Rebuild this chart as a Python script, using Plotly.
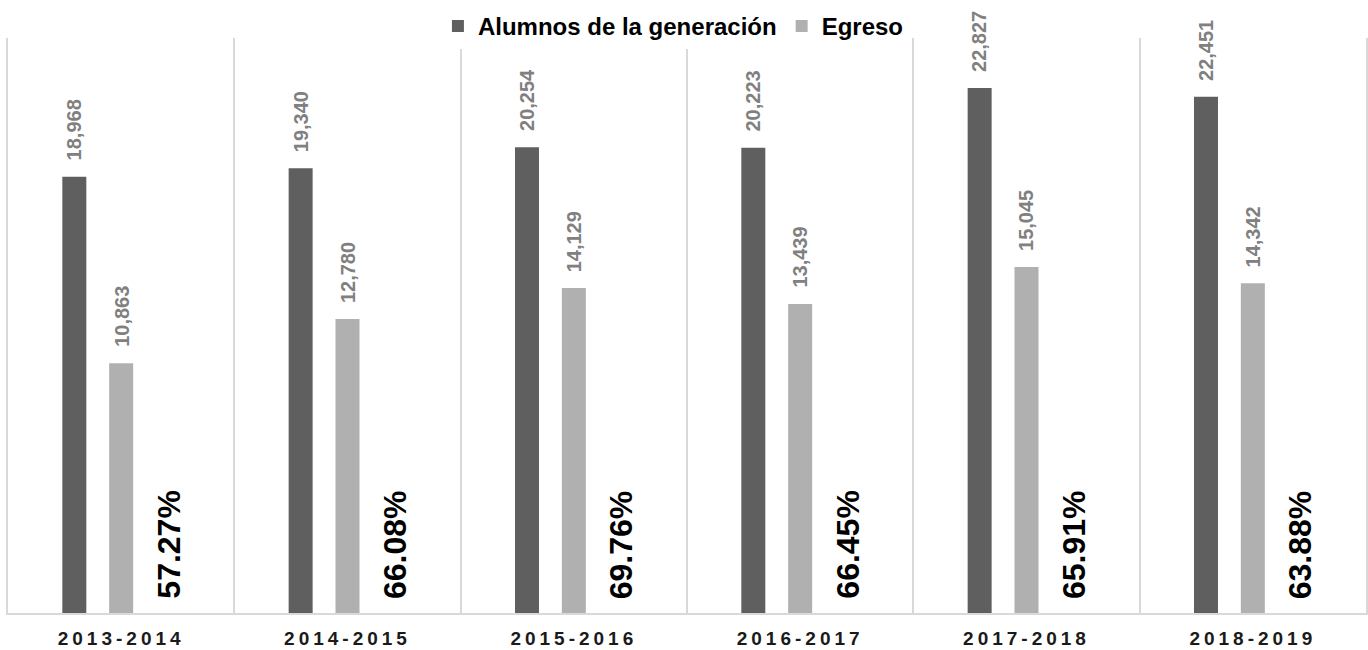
import plotly.graph_objects as go

categories = ["2013-2014", "2014-2015", "2015-2016", "2016-2017", "2017-2018", "2018-2019"]
alumnos = [18968, 19340, 20254, 20223, 22827, 22451]
egreso = [10863, 12780, 14129, 13439, 15045, 14342]
porcentaje = ["57.27%", "66.08%", "69.76%", "66.45%", "65.91%", "63.88%"]

DARK = "#5f5f5f"
LIGHT = "#b0b0b0"
LABEL_GRAY = "#808080"
GRID = "#d9d9d9"
FONT = "Liberation Sans, Arial, sans-serif"

BAR_W = 0.106
fig = go.Figure()
fig.add_trace(go.Bar(
    x=categories, y=alumnos, name="Alumnos de la generación",
    marker=dict(color=DARK, line=dict(width=0)),
    width=BAR_W, offset=-0.207 - BAR_W / 2,
))
fig.add_trace(go.Bar(
    x=categories, y=egreso, name="Egreso",
    marker=dict(color=LIGHT, line=dict(width=0)),
    width=BAR_W, offset=-BAR_W / 2,
))

annotations = []
for c, a, e, p in zip(categories, alumnos, egreso, porcentaje):
    annotations.append(dict(
        x=c, y=a, xref="x", yref="y", text=f"{a:,}", showarrow=False,
        textangle=-90, xanchor="center", yanchor="bottom", xshift=-47, yshift=14,
        font=dict(family=FONT, size=20, color=LABEL_GRAY, weight="bold"),
    ))
    annotations.append(dict(
        x=c, y=e, xref="x", yref="y", text=f"{e:,}", showarrow=False,
        textangle=-90, xanchor="center", yanchor="bottom", xshift=0, yshift=14,
        font=dict(family=FONT, size=20, color=LABEL_GRAY, weight="bold"),
    ))
    annotations.append(dict(
        x=c, y=0, xref="x", yref="y", text=p, showarrow=False,
        textangle=-90, xanchor="center", yanchor="bottom", xshift=47, yshift=12,
        font=dict(family=FONT, size=32, color="#000000", weight="bold"),
    ))

fig.update_layout(
    width=1368, height=650,
    margin=dict(l=8, r=2, t=38, b=37, autoexpand=False),
    paper_bgcolor="white", plot_bgcolor="white",
    barmode="overlay",
    showlegend=True,
    legend=dict(
        orientation="h", x=0.49, xanchor="center", y=0.994, yanchor="top",
        yref="container",
        font=dict(family=FONT, size=24, color="#000000", weight="bold"),
        itemwidth=30, traceorder="normal",
    ),
    annotations=annotations,
    xaxis=dict(
        type="category", tickson="boundaries", showgrid=True, automargin=False,
        gridcolor=GRID, gridwidth=1.5, showline=True, linecolor=GRID, linewidth=1.5,
        ticks="", ticklabelstandoff=7,
        tickfont=dict(family=FONT, size=19, color="#1a1a1a", weight="bold"),
        range=[-0.5, 5.5],
    ),
    yaxis=dict(
        range=[0, 25000], showgrid=False, zeroline=False, showticklabels=False,
        automargin=False,
        showline=True, mirror=True, linecolor=GRID, linewidth=1.5, ticks="",
    ),
)

post = ("document.body.style.margin='0';"
        "var s=document.createElement('style');"
        "s.textContent='.xtick text{letter-spacing:4px}';"
        "document.head.appendChild(s);")
fig.write_html("out.html", post_script=post, config={"displayModeBar": False})
